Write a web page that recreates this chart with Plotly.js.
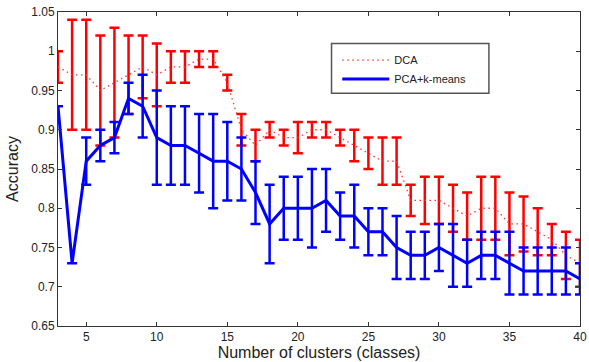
<!DOCTYPE html>
<html>
<head>
<meta charset="utf-8">
<script src="https://cdn.plot.ly/plotly-3.0.1.min.js"></script>
<style>html,body{margin:0;padding:0;background:#fff;}#chart{width:589px;height:362px;}</style>
</head>
<body>
<div id="chart"></div>
<script>
var clusters = [3,4,5,6,7,8,9,10,11,12,13,14,15,16,17,18,19,20,21,22,23,24,25,26,27,28,29,30,31,32,33,34,35,36,37,38,39,40];
var dcaMean = [0.98,0.97,0.97,0.95,0.96,0.97,0.98,0.97,0.98,0.98,0.99,0.99,0.96,0.90,0.88,0.90,0.89,0.89,0.90,0.90,0.89,0.88,0.87,0.86,0.86,0.81,0.81,0.81,0.80,0.79,0.80,0.80,0.78,0.78,0.77,0.76,0.74,0.73];
var dcaErr  = [0.02,0.07,0.07,0.07,0.07,0.05,0.04,0.04,0.02,0.02,0.01,0.01,0.01,0.02,0.02,0.01,0.01,0.02,0.01,0.01,0.01,0.02,0.02,0.03,0.03,0.02,0.03,0.03,0.03,0.03,0.04,0.04,0.04,0.035,0.03,0.02,0.03,0.03];
var pcaMean = [0.93,0.73,0.86,0.88,0.89,0.94,0.93,0.89,0.88,0.88,0.87,0.86,0.86,0.85,0.82,0.78,0.80,0.80,0.80,0.81,0.79,0.79,0.77,0.77,0.75,0.74,0.74,0.75,0.74,0.73,0.74,0.74,0.73,0.72,0.72,0.72,0.72,0.71];
var pcaErr  = [0,0,0.03,0.02,0.02,0.02,0.04,0.06,0.05,0.05,0.05,0.06,0.05,0.04,0.04,0.05,0.04,0.04,0.05,0.04,0.03,0.04,0.03,0.03,0.04,0.03,0.03,0.03,0.04,0.03,0.03,0.03,0.04,0.03,0.03,0.03,0.03,0.02];
var seriesNames = ['DCA', 'PCA+k-means'];
var xTicks = [5,10,15,20,25,30,35,40];
var yTickVals = [0.65,0.7,0.75,0.8,0.85,0.9,0.95,1,1.05];
var yTickText = ['0.65','0.7','0.75','0.8','0.85','0.9','0.95','1','1.05'];

var font = 'Liberation Sans, Arial, Helvetica, sans-serif';

var traces = [
  {
    x: clusters, y: dcaMean, name: seriesNames[0], type: 'scatter', mode: 'lines',
    line: {color: '#ff3333', width: 1.3, dash: '1.5px,3.5px'},
    error_y: {type: 'data', array: dcaErr, visible: true, color: '#ff0000', thickness: 2.5, width: 5}
  },
  {
    x: clusters, y: pcaMean, name: seriesNames[1], type: 'scatter', mode: 'lines',
    line: {color: '#0000ff', width: 3},
    error_y: {type: 'data', array: pcaErr, visible: true, color: '#0000ff', thickness: 2.5, width: 5}
  }
];

var axisCommon = {
  showline: true, mirror: 'ticks', linecolor: '#333', linewidth: 1,
  ticks: 'inside', ticklen: 4, tickcolor: '#333', tickwidth: 1,
  showgrid: false, zeroline: false,
  tickfont: {family: font, size: 12, color: '#222'}
};

var layout = {
  width: 589, height: 362,
  margin: {l: 58, r: 9, t: 12, b: 36, pad: 0},
  paper_bgcolor: '#fff', plot_bgcolor: '#fff',
  showlegend: true,
  font: {family: font, color: '#222'},
  xaxis: Object.assign({}, axisCommon, {
    range: [3, 40], tickvals: xTicks, ticktext: xTicks.map(String),
    title: {text: 'Number of clusters (classes)', font: {family: font, size: 16, color: '#222'}, standoff: 1}
  }),
  yaxis: Object.assign({}, axisCommon, {
    range: [0.65, 1.05], tickvals: yTickVals, ticktext: yTickText,
    title: {text: 'Accuracy', font: {family: font, size: 16, color: '#222'}, standoff: 8}
  }),
  legend: {
    x: 0.535, y: 0.893, xanchor: 'left', yanchor: 'top',
    bgcolor: 'rgba(0,0,0,0)', borderwidth: 0,
    font: {family: font, size: 11, color: '#222'},
    itemwidth: 47
  },
  shapes: [{
    type: 'rect', xref: 'paper', yref: 'paper',
    x0: 0.524, x1: 0.8255, y0: 0.741, y1: 0.900,
    line: {color: '#555', width: 1.5}, fillcolor: 'rgba(0,0,0,0)', layer: 'above'
  }]
};

Plotly.newPlot('chart', traces, layout, {staticPlot: true, displayModeBar: false});
</script>
</body>
</html>
